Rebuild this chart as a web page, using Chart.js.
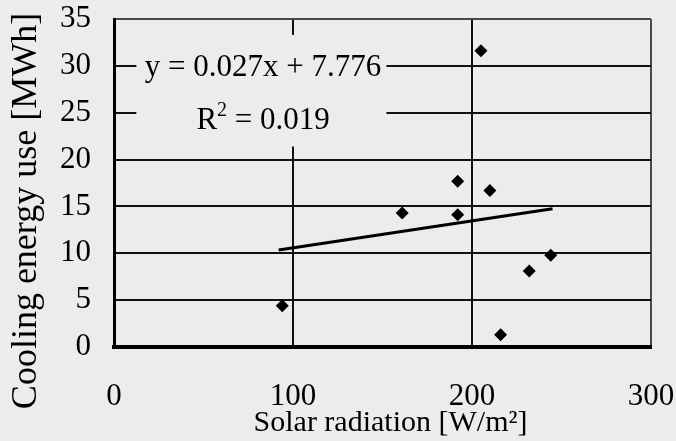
<!DOCTYPE html>
<html>
<head>
<meta charset="utf-8">
<script src="https://cdn.jsdelivr.net/npm/chart.js@4.4.1/dist/chart.umd.min.js"></script>
<style>
  html, body { margin: 0; padding: 0; background: #ececec; }
  canvas { display: block; }
</style>
</head>
<body>
<canvas id="chart" width="676" height="441"></canvas>
<script>
// measured points (W/m2 vs MWh)
const solarRadiation = [94, 161, 192, 192, 205, 210, 216, 232, 244];
const coolingEnergy = [4.4, 14.3, 17.7, 14.1, 31.6, 16.7, 1.3, 8.1, 9.8];

// linear trend line, drawn between the smallest and largest x
const trendX = [92, 245];
const trendY = [10.35, 14.75];

const xTicks = [0, 100, 200, 300];
const yTicks = [0, 5, 10, 15, 20, 25, 30, 35];

const xTitle = "Solar radiation [W/m\u00b2]";
const yTitle = "Cooling energy use [MWh]";
const equationText = "y = 0.027x + 7.776";
const rSquaredValue = " = 0.019";

const FONT = "Liberation Serif";
const BG = "#ececec";

const points = solarRadiation.map((x, i) => ({ x: x, y: coolingEnergy[i] }));
const trend = trendX.map((x, i) => ({ x: x, y: trendY[i] }));

// equation box, placed in data units like an annotation
const eqBox = { xMin: 12.5, xMax: 152.2, yMin: 21.4, yMax: 33.3 };
const eqCenterX = 83.3;
const eqLine1Y = 28.95;
const eqLine2Y = 23.3;

const equationLabel = {
  id: "equationLabel",
  beforeDatasetsDraw(chart) {
    const { ctx, scales: { x, y } } = chart;
    ctx.save();
    const l = x.getPixelForValue(eqBox.xMin);
    const r = x.getPixelForValue(eqBox.xMax);
    const t = y.getPixelForValue(eqBox.yMax);
    const b = y.getPixelForValue(eqBox.yMin);
    ctx.fillStyle = BG;
    ctx.fillRect(l, t, r - l, b - t);

    ctx.fillStyle = "#000";
    ctx.textBaseline = "alphabetic";
    ctx.font = "31px " + FONT;
    const cx = x.getPixelForValue(eqCenterX);
    ctx.textAlign = "center";
    ctx.fillText(equationText, cx, y.getPixelForValue(eqLine1Y));

    // R² with a raised 2
    const base2 = y.getPixelForValue(eqLine2Y);
    ctx.textAlign = "left";
    ctx.font = "31px " + FONT;
    const wR = ctx.measureText("R").width;
    const wRest = ctx.measureText(rSquaredValue).width;
    ctx.font = "20px " + FONT;
    const wSup = ctx.measureText("2").width;
    let sx = cx - (wR + wSup + wRest) / 2;
    ctx.font = "31px " + FONT;
    ctx.fillText("R", sx, base2);
    ctx.font = "20px " + FONT;
    ctx.fillText("2", sx + wR, base2 - 13);
    ctx.font = "31px " + FONT;
    ctx.fillText(rSquaredValue, sx + wR + wSup, base2);
    ctx.restore();
  }
};

const axisTitles = {
  id: "axisTitles",
  afterDraw(chart) {
    const { ctx, chartArea } = chart;
    ctx.save();
    ctx.fillStyle = "#000";
    ctx.textAlign = "center";
    ctx.textBaseline = "middle";
    ctx.font = "30px " + FONT;
    ctx.fillText(xTitle, (chartArea.left + chartArea.right) / 2 + 8, chartArea.bottom + 76);
    ctx.translate(chartArea.left - 87, (chartArea.top + chartArea.bottom) / 2 + 28);
    ctx.rotate(-Math.PI / 2);
    ctx.font = "36px " + FONT;
    ctx.fillText(yTitle, 0, 0);
    ctx.restore();
  }
};

new Chart(document.getElementById("chart"), {
  type: "scatter",
  data: {
    datasets: [
      {
        label: "Measured",
        data: points,
        pointStyle: "rectRot",
        pointRadius: 6.5,
        pointBackgroundColor: "#000",
        pointBorderWidth: 0,
        order: 1
      },
      {
        label: "Linear trend",
        type: "line",
        data: trend,
        showLine: true,
        borderColor: "#000",
        borderWidth: 3,
        pointRadius: 0,
        fill: false,
        order: 2
      }
    ]
  },
  options: {
    responsive: false,
    animation: false,
    devicePixelRatio: 1,
    layout: { padding: { left: 0, right: 25, top: 19, bottom: 0 } },
    plugins: {
      legend: { display: false },
      tooltip: { enabled: false }
    },
    scales: {
      x: {
        type: "linear",
        min: 0,
        max: 300,
        afterBuildTicks: (s) => { s.ticks = xTicks.map(v => ({ value: v })); },
        afterFit: (s) => {
          s.height = 94;
          s.paddingLeft = 0;
          s.paddingRight = 0;
        },
        ticks: {
          color: "#000",
          padding: 31,
          font: { family: FONT, size: 31 }
        },
        grid: {
          drawTicks: false,
          lineWidth: 2,
          color: (c) => (c.tick && c.tick.value === 300 ? "#4a4a4a" : "#111")
        },
        border: { color: "#000", width: 4 }
      },
      y: {
        type: "linear",
        min: 0,
        max: 35,
        afterBuildTicks: (s) => { s.ticks = yTicks.map(v => ({ value: v })); },
        afterFit: (s) => {
          s.width = 114;
          s.paddingTop = 0;
          s.paddingBottom = 0;
        },
        ticks: {
          color: "#000",
          padding: 23,
          font: { family: FONT, size: 31 }
        },
        grid: {
          drawTicks: false,
          lineWidth: 2,
          color: (c) => (c.tick && c.tick.value === 35 ? "#4a4a4a" : "#111")
        },
        border: { color: "#000", width: 3 }
      }
    }
  },
  plugins: [equationLabel, axisTitles]
});
</script>
</body>
</html>
